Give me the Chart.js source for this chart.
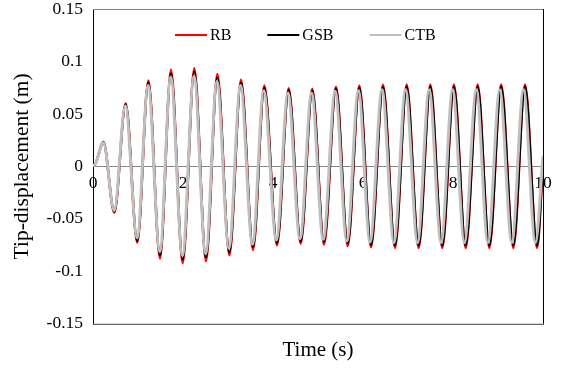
<!DOCTYPE html>
<html>
<head>
<meta charset="utf-8">
<script src="https://cdn.jsdelivr.net/npm/chart.js@4.4.0/dist/chart.umd.min.js"></script>
<style>
  html, body { margin: 0; padding: 0; background: #fff; }
</style>
</head>
<body>
<canvas id="tipChart" width="565" height="369"></canvas>
<script>
// time (s) of the start, each peak / trough, and the end of the record
var timeRB = [0, 0.06,
  0.23, 0.473, 0.726, 0.984, 1.23, 1.489, 1.733, 1.993, 2.251, 2.511,
  2.763, 3.03, 3.289, 3.556, 3.807, 4.089, 4.348, 4.615, 4.873, 5.133,
  5.40, 5.66, 5.918, 6.178, 6.444, 6.711, 6.97, 7.237, 7.496, 7.762,
  8.02, 8.282, 8.548, 8.807, 9.07, 9.34, 9.60, 9.867, 10];
var timeGSB = timeRB;
var timeCTB = [0, 0.06,
  0.23, 0.47, 0.72, 0.98, 1.225, 1.485, 1.728, 1.987, 2.245, 2.504,
  2.755, 3.02, 3.278, 3.544, 3.794, 4.075, 4.333, 4.60, 4.857, 5.116,
  5.382, 5.641, 5.898, 6.157, 6.422, 6.688, 6.946, 7.212, 7.47, 7.735,
  7.992, 8.253, 8.518, 8.776, 9.038, 9.307, 9.566, 9.832, 10];

// tip displacement (m)
var rb = [0, 0.003,
  0.0235, -0.044, 0.060, -0.0726, 0.0818, -0.0878, 0.092, -0.0923, 0.0935, -0.0904,
  0.088, -0.0847, 0.0825, -0.0796, 0.077, -0.0752, 0.0745, -0.0736, 0.074, -0.0745,
  0.076, -0.0758, 0.077, -0.077, 0.0777, -0.0777, 0.078, -0.0777, 0.078, -0.0777,
  0.078, -0.0777, 0.078, -0.0777, 0.078, -0.0777, 0.078, -0.0777, 0.003];
var gsb = [0, 0.003,
  0.023, -0.043, 0.059, -0.071, 0.080, -0.085, 0.089, -0.089, 0.0905, -0.087,
  0.085, -0.082, 0.080, -0.077, 0.075, -0.073, 0.073, -0.0715, 0.072, -0.072,
  0.074, -0.0735, 0.075, -0.075, 0.0757, -0.0755, 0.076, -0.0755, 0.076, -0.0755,
  0.076, -0.0755, 0.076, -0.0755, 0.076, -0.0755, 0.076, -0.0755, 0.003];
var ctb = [0, 0.003,
  0.0225, -0.042, 0.0575, -0.068, 0.077, -0.081, 0.085, -0.085, 0.086, -0.083,
  0.081, -0.078, 0.077, -0.074, 0.072, -0.070, 0.070, -0.069, 0.070, -0.0695,
  0.0715, -0.071, 0.072, -0.072, 0.073, -0.0725, 0.073, -0.0725, 0.073, -0.0725,
  0.073, -0.0725, 0.073, -0.0725, 0.073, -0.0725, 0.073, -0.0725, 0.01];

var seriesNames = ["RB", "GSB", "CTB"];
var seriesColors = ["#ff0000", "#000000", "#bfbfbf"];

var xTickLabels = ["0", "2", "4", "6", "8", "10"];
var yTickLabels = ["-0.15", "-0.1", "-0.05", "0", "0.05", "0.1", "0.15"];

var serif = "'Liberation Serif', 'Times New Roman', serif";

function points(ts, ys) {
  return ts.map(function (t, i) { return { x: t, y: ys[i] }; });
}

// legend drawn inside the plot, near the top
var insideLegend = {
  id: 'insideLegend',
  afterDraw: function (chart) {
    var ctx = chart.ctx;
    var area = chart.chartArea;
    var y = area.top + 26;
    var x = area.left + 82;
    ctx.save();
    ctx.font = '16px ' + serif;
    ctx.textBaseline = 'middle';
    ctx.textAlign = 'left';
    seriesNames.forEach(function (name, i) {
      ctx.strokeStyle = seriesColors[i];
      ctx.lineWidth = 2;
      ctx.beginPath();
      ctx.moveTo(x, y);
      ctx.lineTo(x + 32, y);
      ctx.stroke();
      ctx.fillStyle = '#000';
      ctx.fillText(name, x + 35, y + 1);
      x += 35 + ctx.measureText(name).width + 36;
    });
    ctx.restore();
  }
};

// top, right and bottom edges of the plot frame
var plotFrame = {
  id: 'plotFrame',
  beforeDatasetsDraw: function (chart) {
    var ctx = chart.ctx;
    var a = chart.chartArea;
    ctx.save();
    ctx.lineWidth = 1;
    ctx.strokeStyle = '#7f7f7f';
    ctx.beginPath();
    ctx.moveTo(a.left, a.top + 0.5);
    ctx.lineTo(a.right, a.top + 0.5);
    ctx.stroke();
    ctx.strokeStyle = '#000';
    ctx.beginPath();
    ctx.moveTo(a.right + 0.5, a.top);
    ctx.lineTo(a.right + 0.5, a.bottom);
    ctx.stroke();
    ctx.strokeStyle = '#404040';
    ctx.beginPath();
    ctx.moveTo(a.left, a.bottom + 0.5);
    ctx.lineTo(a.right + 1, a.bottom + 0.5);
    ctx.stroke();
    ctx.restore();
  }
};

var ctxT = document.getElementById("tipChart").getContext('2d');
var tipChart = new Chart(ctxT, {
  type: 'line',
  data: {
    datasets: [{
        label: seriesNames[0],
        data: points(timeRB, rb),
        borderColor: seriesColors[0],
        borderWidth: 2.5,
        order: 3
      },
      {
        label: seriesNames[1],
        data: points(timeGSB, gsb),
        borderColor: seriesColors[1],
        borderWidth: 2.25,
        order: 2
      },
      {
        label: seriesNames[2],
        data: points(timeCTB, ctb),
        borderColor: seriesColors[2],
        borderWidth: 3,
        order: 1
      }
    ]
  },
  options: {
    responsive: false,
    animation: false,
    layout: { padding: { left: 0, right: 22, top: 9, bottom: 0 } },
    elements: {
      point: { radius: 0 },
      line: { cubicInterpolationMode: 'monotone', fill: false }
    },
    plugins: {
      legend: { display: false },
      tooltip: { enabled: false },
      title: {
        display: true,
        position: 'bottom',
        fullSize: false,
        text: 'Time (s)',
        color: '#000',
        font: { family: serif, size: 21, weight: 'normal' },
        padding: { top: 14, bottom: 6 }
      }
    },
    scales: {
      x: {
        type: 'linear',
        min: 0,
        max: 10,
        position: { y: 0 },
        afterFit: function (scale) {
          scale.height = 0;
          scale.paddingLeft = 0;
          scale.paddingRight = 0;
        },
        grid: { display: false, drawTicks: false },
        border: { display: true, color: '#868686', width: 1 },
        ticks: {
          stepSize: 2,
          padding: 7,
          maxRotation: 0,
          color: '#000',
          font: { family: serif, size: 17.5 },
          callback: function (v) { return xTickLabels[Math.round(v / 2)]; }
        }
      },
      y: {
        min: -0.15,
        max: 0.15,
        afterFit: function (scale) {
          scale.width = 93;
          scale.paddingTop = 0;
          scale.paddingBottom = 0;
        },
        grid: { display: false, drawTicks: false },
        border: { display: true, color: '#000', width: 1 },
        ticks: {
          stepSize: 0.05,
          padding: 10,
          color: '#000',
          font: { family: serif, size: 17.5 },
          callback: function (v) { return yTickLabels[Math.round((v + 0.15) / 0.05)]; }
        },
        title: {
          display: true,
          text: 'Tip-displacement (m)',
          color: '#000',
          font: { family: serif, size: 21.5 },
          padding: { top: 9, bottom: 0 }
        }
      }
    }
  },
  plugins: [plotFrame, insideLegend]
});
</script>
</body>
</html>
